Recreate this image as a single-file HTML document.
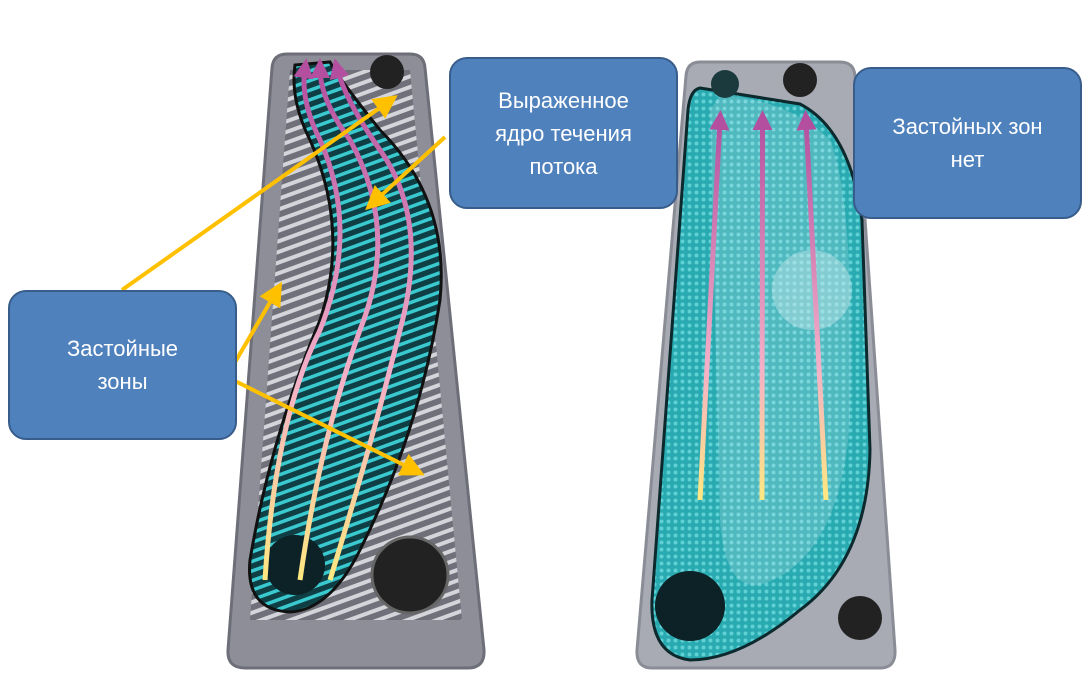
<!DOCTYPE html>
<html><head><meta charset="utf-8"><style>
html,body{margin:0;padding:0;background:#fff;width:1090px;height:697px;overflow:hidden}
.box{position:absolute;background:#4f81bd;border:2px solid #385d8a;border-radius:18px;color:#fff;font-family:"Liberation Sans","Noto Sans CJK SC",sans-serif;font-size:22px;line-height:33px;text-align:center;display:flex;align-items:center;justify-content:center;box-sizing:border-box}
</style></head><body>
<svg width="1090" height="697" style="position:absolute;left:0;top:0">
<defs>
<pattern id="st" width="10" height="10" patternUnits="userSpaceOnUse" patternTransform="rotate(-20)">
<rect width="10" height="10" fill="#6f7079"/><rect width="10" height="4" fill="#d4d5da"/></pattern>
<pattern id="ts" width="9" height="9" patternUnits="userSpaceOnUse" patternTransform="rotate(-20)">
<rect width="9" height="9" fill="#0f3f45"/><rect width="9" height="3.5" fill="#3ac9cf"/></pattern>
<pattern id="dots" width="7" height="7" patternUnits="userSpaceOnUse">
<rect width="7" height="7" fill="#29a9b0"/><circle cx="3.5" cy="3.5" r="2" fill="#5fd0d4"/></pattern>
<linearGradient id="pk" gradientUnits="userSpaceOnUse" x1="0" y1="580" x2="0" y2="70"><stop offset="0" stop-color="#ffe880"/><stop offset="0.4" stop-color="#f4b0c8"/><stop offset="1" stop-color="#b44fa0"/></linearGradient>
<linearGradient id="pk2" gradientUnits="userSpaceOnUse" x1="0" y1="500" x2="0" y2="120"><stop offset="0" stop-color="#ffe880"/><stop offset="0.35" stop-color="#f4b0c8"/><stop offset="1" stop-color="#b44fa0"/></linearGradient>
<marker id="ya" markerWidth="6" markerHeight="6" refX="3" refY="3" orient="auto"><path d="M0,0L6,3L0,6z" fill="#ffc000"/></marker>
<marker id="pa" markerWidth="4" markerHeight="4" refX="2" refY="2" orient="auto"><path d="M0,0L4,2L0,4z" fill="#b44fa0"/></marker>
</defs>
<!-- left plate -->
<path d="M287,54 L410,54 Q424,54 425,68 L484,650 Q485,668 468,668 L245,668 Q227,668 228,650 L272,68 Q273,54 287,54Z" fill="#8d8e98" stroke="#6d6e78" stroke-width="3"/>
<path d="M290,70 L410,70 L462,620 L250,620 Z" fill="url(#st)"/>
<circle cx="387" cy="72" r="17" fill="#222"/>
<circle cx="410" cy="575" r="38" fill="#222" stroke="#666" stroke-width="3"/>
<path d="M295,65 Q290,100 310,140 Q350,230 320,320 Q270,440 250,560 Q245,610 290,612 Q330,610 360,550 Q420,430 440,300 Q450,200 380,130 Q340,80 330,62 Z" fill="url(#ts)" stroke="#111" stroke-width="3"/>
<circle cx="295" cy="565" r="30" fill="#0c2226"/>
<g fill="none" stroke="url(#pk)" stroke-width="5" marker-end="url(#pa)">
<path d="M265,580 Q275,420 320,330 Q360,230 320,140 Q300,100 305,68"/>
<path d="M300,580 Q320,440 360,330 Q400,230 350,140 Q320,100 320,68"/>
<path d="M330,580 Q370,450 400,330 Q430,220 380,150 Q345,100 337,68"/>
</g>
<!-- right plate -->
<path d="M700,62 L840,62 Q854,62 855,76 L895,650 Q896,668 880,668 L652,668 Q636,668 637,650 L686,76 Q687,62 700,62Z" fill="#a8aab4" stroke="#8a8c96" stroke-width="3"/>
<circle cx="800" cy="80" r="17" fill="#222"/>
<circle cx="860" cy="618" r="22" fill="#222"/>
<path d="M700,88 Q750,96 800,104 Q850,130 862,220 L870,450 Q868,560 800,610 Q740,660 690,660 Q650,655 652,600 L688,110 Q690,90 700,88Z" fill="url(#dots)" stroke="#0c2a2e" stroke-width="3"/>
<path d="M720,95 Q790,100 830,140 Q855,200 850,420 Q840,560 760,585 Q725,590 720,520 L710,110Z" fill="#c8e8ea" opacity="0.25"/>
<circle cx="812" cy="290" r="40" fill="#d0eef0" opacity="0.4"/>
<circle cx="725" cy="84" r="14" fill="#1a3a3e"/>
<circle cx="690" cy="606" r="35" fill="#0c2226"/>
<g fill="none" stroke="url(#pk2)" stroke-width="5" marker-end="url(#pa)">
<path d="M700,500 L720,120"/><path d="M762,500 L762.5,120"/><path d="M826,500 L806,120"/>
</g>
<!-- yellow arrows -->
<g stroke="#ffc000" stroke-width="4" marker-end="url(#ya)">
<line x1="122" y1="290" x2="388" y2="102"/>
<line x1="445" y1="137" x2="374" y2="202"/>
<line x1="234" y1="364" x2="276" y2="292"/>
<line x1="225" y1="376" x2="414" y2="470"/>
</g>
</svg>
<div class="box" style="left:449px;top:57px;width:229px;height:152px">Выраженное<br>ядро течения<br>потока</div>
<div class="box" style="left:853px;top:67px;width:229px;height:152px">Застойных зон<br>нет</div>
<div class="box" style="left:8px;top:290px;width:229px;height:150px">Застойные<br>зоны</div>
</body></html>
